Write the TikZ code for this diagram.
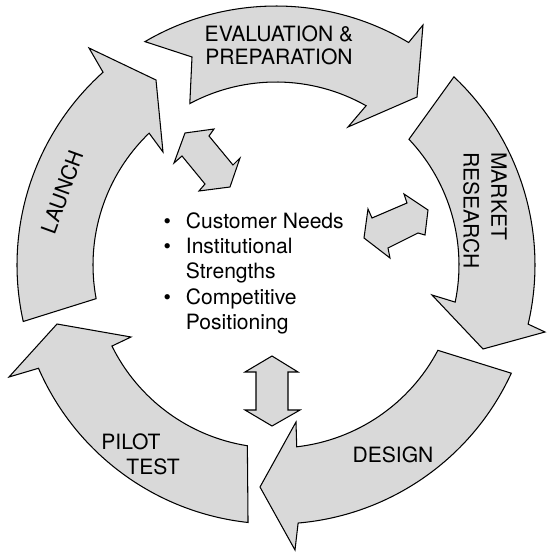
\documentclass[tikz,border=0pt]{standalone}
\usepackage{fontspec}
\setmainfont{TeX Gyre Heros}
\usetikzlibrary{calc}
\definecolor{ringgray}{RGB}{217,217,217}

\begin{document}
\begin{tikzpicture}[x=0.02cm,y=0.02cm,line width=0.6pt,
    phase/.style={fill=ringgray,draw=black,line join=miter},
    link/.style={fill=ringgray,draw=black},
    lbl/.style={font=\fontsize{12}{13}\selectfont,align=center,inner sep=0pt}]
    \useasboundingbox (0,0) rectangle (547,552);
    \coordinate (c) at (276,287);
    % the five phases round the ring
    \draw[phase] ($(c)+(192.6:259)$) arc[start angle=192.6,end angle=131.9,radius=259]
        -- (89,504) -- (156,472) -- (163,400) -- ($(c)+(133.9:183)$)
        arc[start angle=133.9,end angle=190.6,radius=183] -- cycle;
    \draw[phase] ($(c)+(120.4:259)$) arc[start angle=120.4,end angle=59.2,radius=259]
        -- (423,527) -- (417,455) -- (348,425) -- ($(c)+(60.5:183)$)
        arc[start angle=60.5,end angle=118.1,radius=183] -- (192,495) -- cycle;
    \draw[phase] ($(c)+(46.6:259)$) arc[start angle=46.6,end angle=-13.2,radius=259]
        -- (545,220) -- (483,203) -- (432,257) -- ($(c)+(-11.7:183)$)
        arc[start angle=-11.7,end angle=43.4,radius=183] -- cycle;
    \draw[phase] ($(c)+(-24.7:259)$) arc[start angle=-24.7,end angle=-85.1,radius=259]
        -- (295,2) -- (260,65) -- (296,130) -- ($(c)+(-83.5:183)$)
        arc[start angle=-83.5,end angle=-27.8,radius=183] -- cycle;
    \draw[phase] ($(c)+(263.8:259)$) arc[start angle=263.8,end angle=203.5,radius=259]
        -- (9,175) -- (57,228) -- (131,215) -- ($(c)+(206.3:183)$)
        arc[start angle=206.3,end angle=261,radius=183] -- cycle;
    % double arrows to the centre
    \draw[link] (185,419) -- (214,423) -- (209,416) -- (233,387) -- (240,394) -- (230,365)
        -- (199,361) -- (205,368) -- (182,396) -- (174,389) -- cycle;
    \draw[link] (368,343) -- (372,334) -- (407,349) -- (404,358) -- (428,342) -- (425,317)
        -- (418,319) -- (388,304) -- (390,294) -- (364,314) -- cycle;
    \draw[link] (272,196) -- (298,180) -- (288,180) -- (288,142) -- (300,142) -- (272,126)
        -- (245,142) -- (256,142) -- (256,180) -- (245,180) -- cycle;
    % labels
    \node[lbl] (eval) at (279,506.5) {EVALUATION \&\\PREPARATION};
    \node[lbl,rotate=70] (launch) at (62,360) {LAUNCH};
    \node[lbl,rotate=-90,align=left,font=\fontsize{12}{15.9}\selectfont] (market) at (485,341.5) {MARKET\\RESEARCH};
    \node[lbl] (design) at (393,97) {DESIGN};
    \node[lbl,align=left,font=\fontsize{12}{14.2}\selectfont] (pilot) at (140.5,97.5) {PILOT\\\hspace*{0.5cm}TEST};
    \node[lbl,anchor=north west,font=\fontsize{12}{14.4}\selectfont] (needs) at (163,342)
        {\begin{tabular}{@{}l@{\hspace{0.3cm}}l@{}}
            \textbullet & Customer Needs\\
            \textbullet & Institutional\\
                        & Strengths\\
            \textbullet & Competitive\\
                        & Positioning
        \end{tabular}};
\end{tikzpicture}
\end{document}
